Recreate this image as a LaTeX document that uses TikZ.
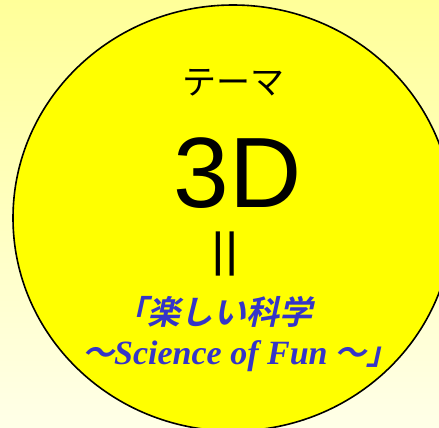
\documentclass[tikz,border=0pt]{standalone}
\usepackage{fontspec}
\setmainfont{Liberation Sans}
\newfontfamily\jp{Noto Sans CJK JP}
\newfontfamily\jpbi{Noto Sans CJK JP Bold}[FakeSlant=0.22]
\newfontfamily\serbi{Liberation Serif Bold Italic}
\usetikzlibrary{shapes.geometric}
\definecolor{bgtop}{HTML}{FFFF99}
\definecolor{bgbot}{HTML}{FFFFE8}
\definecolor{discyellow}{HTML}{FFFF00}
\definecolor{ttlblue}{HTML}{3535C8}
\tikzset{
  bigdisc/.style={ellipse, draw=black, line width=1.6pt, fill=discyellow,
    minimum width=440pt, minimum height=426pt, inner sep=0pt},
  bluetxt/.style={text=ttlblue, anchor=west, inner sep=0pt}
}
\begin{document}
\begin{tikzpicture}[x=1pt,y=-1pt]
\useasboundingbox (0,0) rectangle (439,428);
\clip (0,0) rectangle (439,428);
\shade[top color=bgtop, bottom color=bgbot] (0,0) rectangle (439,428);
\node[bigdisc] (disc) at (233,218) {};
\node (theme) at (233,83) {\jp\fontsize{34}{34}\selectfont テーマ};
\node (td) at (237.5,173) {\fontsize{100}{100}\selectfont 3D};
\node[rotate=90] (eq) at (232.5,254) {\jp\fontsize{61}{61}\selectfont ＝};
\node[bluetxt] (l1) at (114,312) {\jpbi\fontsize{33}{33}\selectfont 「楽しい科学};
\node[bluetxt] (l2) at (82,356) {\jpbi\fontsize{32}{32}\selectfont 〜\serbi\fontsize{34}{34}\selectfont Science of Fun\jpbi\fontsize{32}{32}\selectfont\ 〜」};
\end{tikzpicture}
\end{document}
